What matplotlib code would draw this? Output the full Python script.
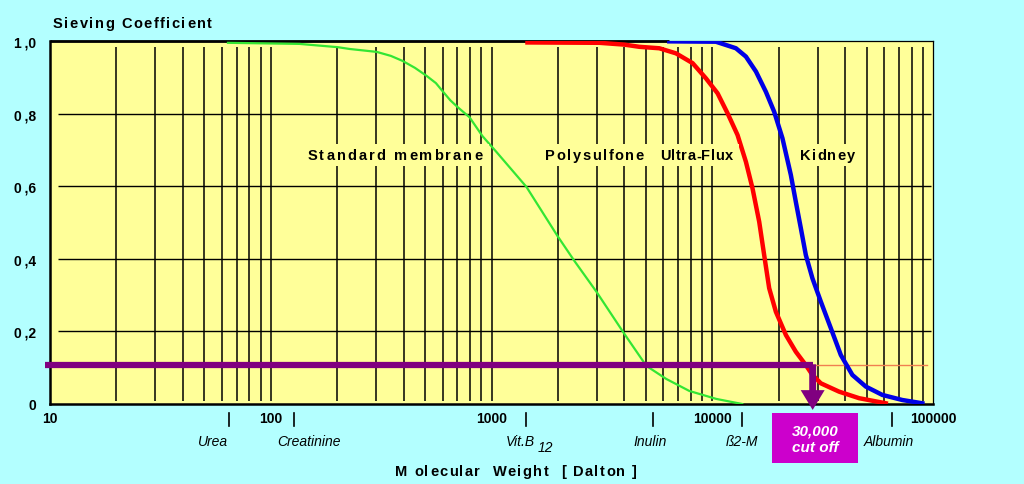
import matplotlib.pyplot as plt
from matplotlib.patches import Rectangle
from matplotlib.transforms import IdentityTransform
from matplotlib.font_manager import FontProperties, findfont, get_font

plt.rcParams['font.family'] = ['Liberation Sans', 'DejaVu Sans']

# Sieving curves (molecular weight in Dalton, sieving coefficient)
green_mw = [64, 135, 201, 228, 302, 350, 396, 450, 508, 560, 600, 650, 702, 795,
            910, 1054, 1440, 1990, 2375, 2990, 4000, 5030, 6190, 7870, 10430, 13670]
green_sc = [0.995, 0.992, 0.983, 0.978, 0.970, 0.959, 0.945, 0.926, 0.904, 0.884,
            0.862, 0.837, 0.818, 0.790, 0.738, 0.694, 0.598, 0.463, 0.394, 0.309,
            0.193, 0.105, 0.069, 0.036, 0.014, 0.0]

red_mw = [1455, 3080, 4000, 4674, 5754, 6849, 8147, 9366, 10570, 11730, 13020,
          14210, 15220, 16320, 17190, 18110, 19420, 21560, 23910, 26550, 28440,
          31040, 37560, 46270, 61100]
red_sc = [0.996, 0.995, 0.99, 0.984, 0.980, 0.966, 0.939, 0.897, 0.856, 0.801,
          0.741, 0.667, 0.594, 0.502, 0.410, 0.319, 0.254, 0.190, 0.144, 0.107,
          0.080, 0.057, 0.034, 0.016, 0.002]

blue_mw = [6390, 10390, 12800, 14210, 15770, 17500, 19080, 20800, 22700, 23910,
           25200, 26550, 28440, 31040, 34440, 38230, 43130, 49610, 58960, 72620, 89450]
blue_sc = [0.999, 0.998, 0.980, 0.957, 0.916, 0.860, 0.805, 0.732, 0.631, 0.557,
           0.484, 0.410, 0.346, 0.282, 0.209, 0.135, 0.080, 0.048, 0.025, 0.011, 0.002]

# cut-off line
cutoff_sc = 0.107
cutoff_mw = 28500
cut_start = 9.5
thin_end = 94000

# marker molecules below the axis
mol_names = ['Urea', 'Creatinine', 'Vit.B', 'Inulin', 'ß2-M', 'Albumin']
mol_mw = [65, 127, 1426, 5400, 13700, 65200]
mol_dx = [-12, 11, -3.6, -2, 0, -2]   # label offset in points

xticks = [10, 100, 1000, 10000, 100000]
xtick_labels = ['10', '100', '1000', '10000', '100000']
yticks = [0, 0.2, 0.4, 0.6, 0.8, 1.0]
ytick_labels = ['0', '0\u2009,2', '0\u2009,4', '0\u2009,6', '0\u2009,8', '1\u2009,0']

W, H = 1024, 485
fig = plt.figure(figsize=(W/100, H/100), dpi=100, facecolor='#B3FFFF')
ax = fig.add_axes([50/W, 1-405/H, 883/W, 363/H])
ax.set_facecolor('#FFFF99')
ax.set_xscale('log')
ax.set_xlim(10, 100000)
ax.set_ylim(0, 1.0)


def spaced(x, y, s, size, width=None, gap=0.0, ha='left', weight='bold',
           style='normal', color='black', zorder=3):
    """letter-spaced text; x, y = pixel position of baseline (top-left origin)"""
    prop = FontProperties(family='Liberation Sans', weight=weight, style=style, size=size)
    font = get_font(findfont(prop))
    font.set_size(size, 100)
    advs = [font.load_char(ord(c)).linearHoriAdvance / 65536 for c in s]
    if width is not None:
        gap = (width - sum(advs)) / (len(s) - 1)
    total = sum(advs) + gap * (len(s) - 1)
    x0 = {'left': x, 'center': x - total / 2, 'right': x - total}[ha]
    start = x0
    for c, a in zip(s, advs):
        if c != ' ':
            fig.text(x0, H - y, c, transform=IdentityTransform(), fontproperties=prop,
                     color=color, ha='left', va='baseline', zorder=zorder)
        x0 += a + gap
    return start, start + total


# grid
vx = [m*d for d in [10, 100, 1000, 10000] for m in range(1, 10)][1:]
ax.vlines(vx, 0.008, 0.983, color='black', lw=1.1, zorder=1)
ax.hlines([0.2, 0.4, 0.6, 0.8], 10.9, 98000, color='black', lw=1.0, zorder=1)
ax.hlines(1.0, 10, 6400, color='black', lw=2, zorder=3, clip_on=False)

for s in ['left', 'bottom']:
    ax.spines[s].set_linewidth(1.8)
for s in ['top', 'right']:
    ax.spines[s].set_linewidth(0.9)

ax.set_xticks(xticks)
ax.set_xticklabels(xtick_labels, fontweight='bold', fontsize=10)
ax.minorticks_off()
ax.set_yticks(yticks)
ax.set_yticklabels(ytick_labels, fontweight='bold', fontsize=10)
ax.tick_params(length=0, pad=5)
ax.tick_params(axis='y', pad=10)

# curves
ax.plot(green_mw, green_sc, color='#33E633', lw=1.6, zorder=3)
ax.plot(red_mw, red_sc, color='#FF0000', lw=3.2, zorder=3)
ax.plot(blue_mw, blue_sc, color='#0000E6', lw=3.2, zorder=3)

# cut-off
ax.plot([cut_start, cutoff_mw], [cutoff_sc, cutoff_sc], color='#800080', lw=4.5,
        solid_capstyle='butt', zorder=4, clip_on=False)
ax.plot([cutoff_mw, thin_end], [cutoff_sc, cutoff_sc], color='#F08050', lw=1, zorder=2)
ax.annotate('', xy=(cutoff_mw, -0.024), xytext=(cutoff_mw, cutoff_sc + 0.01),
            arrowprops=dict(arrowstyle='simple,head_width=1.15,head_length=0.95,tail_width=0.33',
                            mutation_scale=15, color='#800080', lw=0),
            annotation_clip=False, zorder=5)

# curve labels on yellow patches that cut the grid
for x0, x1, s, ha in [(395, None, 'Standard membrane', 'center'),
                      (545, 644, 'Polysulfone', 'left'),
                      (660, 733, 'Ultra-Flux', 'left'),
                      (800, 855, 'Kidney', 'left')]:
    if ha == 'center':
        a, b = spaced(x0, 160.5, s, 10.5, width=175, ha='center')
    else:
        a, b = spaced(x0, 160.5, s, 10.5, width=x1 - x0)
    fig.patches.append(Rectangle((a - 6, H - 167), b - a + 12, 22, transform=IdentityTransform(),
                                 facecolor='#FFFF99', edgecolor='none', zorder=2))

# molecule markers
tr = ax.get_xaxis_transform()
for name, mw, dx in zip(mol_names, mol_mw, mol_dx):
    ax.plot([mw, mw], [-0.025, -0.06], color='black', lw=1.2, transform=tr, clip_on=False)
    ax.annotate(name, xy=(mw, -0.102), xycoords=tr, xytext=(dx, 0), textcoords='offset points',
                ha='center', va='center', fontsize=10, style='italic')
ax.annotate('12', xy=(mol_mw[2], -0.118), xycoords=tr, xytext=(14, 0), textcoords='offset points',
            ha='center', va='center', fontsize=10, style='italic')

# cut-off box
fig.patches.append(Rectangle((772/W, 1-464/H), 86/W, 50/H, transform=fig.transFigure,
                             facecolor='#CC00CC', edgecolor='none'))
fig.text(815/W, 1-439.5/H, '30,000\ncut off', color='white', fontweight='bold',
         style='italic', fontsize=11, ha='center', va='center', linespacing=1.2)

spaced(53, 28.5, 'Sieving Coefficient', 10.5, width=159)
spaced(395, 476.5, 'M olecular  Weight  [ Dalton ]', 10.5, width=242)

fig.savefig('out.png', dpi=100, facecolor=fig.get_facecolor())
